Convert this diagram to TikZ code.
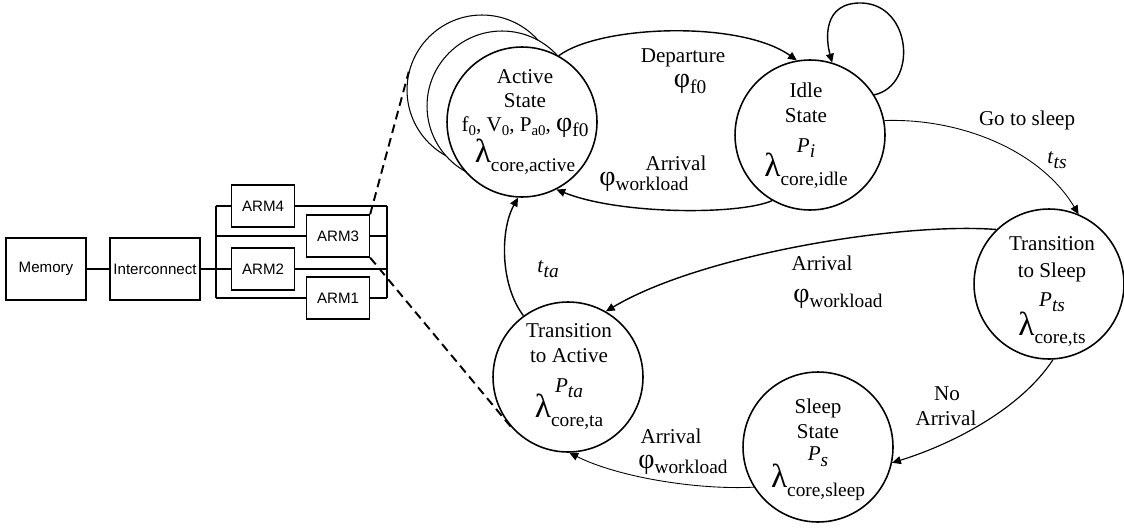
\documentclass[tikz,border=0pt]{standalone}
\usepackage{fontspec}
\setmainfont{Liberation Serif}
\newfontfamily\armfont{Liberation Sans}
\usetikzlibrary{arrows.meta}

\newcommand{\lowsub}[1]{\raisebox{-2.5pt}{\fontsize{8.5}{9}\selectfont #1}}
\newcommand{\lamsub}[1]{{\fontsize{19}{19}\selectfont λ}\raisebox{-5pt}{\fontsize{11}{11}\selectfont #1}}
\newcommand{\phisub}[1]{{\fontsize{16}{16}\selectfont φ}\raisebox{-3pt}{\fontsize{11}{11}\selectfont #1}}
\newcommand{\Psub}[1]{\textit{P}\raisebox{-3pt}{\fontsize{11}{11}\selectfont\itshape #1}}
\newcommand{\tsub}[1]{\textit{t}\raisebox{-3pt}{\fontsize{11}{11}\selectfont\itshape #1}}
\newcommand{\statefont}{\fontsize{12}{13.6}\selectfont\lineskiplimit=-30pt\relax}

\begin{document}
\begin{tikzpicture}[x=0.02cm, y=-0.02cm,
  state/.style={circle, draw, line width=0.9pt, fill=white, minimum size=3cm, inner sep=0pt},
  ghost/.style={state, line width=0.6pt},
  txt/.style={align=center, inner sep=0pt, font=\statefont},
  lbl/.style={inner sep=0pt, anchor=base, font=\fontsize{12}{13.6}\selectfont},
  block/.style={draw, line width=0.75pt, fill=white, minimum height=1.24cm, inner sep=1pt,
    font=\armfont\fontsize{8.6}{10}\selectfont},
  arm/.style={block, minimum width=1.26cm, minimum height=0.84cm},
  bus/.style={line width=1.1pt},
  link/.style={line width=1.1pt, dash pattern=on 5pt off 3pt},
  trans/.style={-{Triangle[length=5pt, width=4.5pt]}, line width=0.8pt},
  thintrans/.style={trans, line width=0.5pt}]
  \useasboundingbox (0,0) rectangle (1124,527);

  % Hardware blocks
  \node[block, minimum width=1.6cm] (mem) at (46,269) {Memory};
  \node[block, minimum width=1.8cm] (icon) at (155,269) {Interconnect};
  \node[arm] (a4) at (263,206) {ARM4};
  \node[arm] (a3) at (338,236) {ARM3};
  \node[arm] (a2) at (263,269) {ARM2};
  \node[arm] (a1) at (338,298) {ARM1};
  \coordinate (lbus) at (216,0);
  \coordinate (rbus) at (387,0);

  % Bus
  \draw[bus] (mem) -- (icon);
  \draw[bus] (icon) -- (lbus |- icon);
  \draw[bus] (lbus |- a4) -- (lbus |- a1);
  \draw[bus] (rbus |- a4) -- (rbus |- a1);
  \foreach \a in {a1,a2,a3,a4}
    \draw[bus] (lbus |- \a) -- (\a.west) (\a.east) -- (rbus |- \a);

  % States
  \node[ghost] (act3) at (482,90) {};
  \node[ghost] (act2) at (502,106) {};
  \node[state] (act) at (522,122) {};
  \node[state] (idle) at (810,135) {};
  \node[state] (ts) at (1049,284) {};
  \node[state] (ta) at (568,377) {};
  \node[state] (sleep) at (818,447) {};

  \node[txt, anchor=north] (act-t) at (525,69)
    {Active\\State\\f\lowsub{0}, V\lowsub{0}, P\lowsub{a0}, \phisub{f0}\\[4.5pt]\lamsub{core,active}};
  \node[txt, anchor=north] (idle-t) at (806,83)
    {Idle\\[0.6pt]State\\[3pt]\Psub{i}\\[0.5pt]\lamsub{core,idle}};
  \node[txt, anchor=north] (ts-t) at (1052,236)
    {Transition\\[1.7pt]to Sleep\\[3pt]\Psub{ts}\\[2.8pt]\lamsub{core,ts}};
  \node[txt, anchor=north] (ta-t) at (569,323)
    {Transition\\[0.6pt]to Active\\[3.5pt]\Psub{ta}\\[0.8pt]\lamsub{core,ta}};
  \node[txt, anchor=north] (sleep-t) at (818,399)
    {Sleep\\[0.6pt]State\\[-1.1pt]\Psub{s}\\[1.7pt]\lamsub{core,sleep}};

  % Zoom lines
  \draw[link] (a3.north east) -- (act3.166);
  \draw[link] (a3.south east) -- (ta.221);

  % Transitions
  \draw[trans] (act.61) .. controls (600,25) and (740,20) .. (idle.100);
  \draw[trans] (idle.32) .. controls (918,85) and (912,5) .. (862,3)
    .. controls (822,2) and (826,40) .. (idle.73);
  \draw[trans] (idle.240) .. controls (740,215) and (620,215) .. (act.297);
  \draw[thintrans] (idle.11) .. controls (960,118) and (1040,150) .. (ts.67);
  \draw[trans] (ts.134) .. controls (900,222) and (700,255) .. (ta.60);
  \draw[trans] (ta.126) .. controls (500,285) and (500,230) .. (act.267);
  \draw[trans, line width=0.65pt] (ts.273) .. controls (1020,410) and (950,445) .. (sleep.348);
  \draw[thintrans] (sleep.212) .. controls (700,490) and (620,478) .. (ta.271);

  % Labels
  \node[lbl] (dep) at (683,63) {Departure};
  \node[lbl] (dep-phi) at (690,88) {\phisub{f0}};
  \node[lbl] (arr-up) at (676,170) {Arrival};
  \node[lbl] (arr-up-phi) at (644,185) {\phisub{workload}};
  \node[lbl] (gts) at (1027,125) {Go to sleep};
  \node[lbl] (tts) at (1057,163) {\tsub{ts}};
  \node[lbl] (arr-mid) at (822,270) {Arrival};
  \node[lbl] (arr-mid-phi) at (838,302) {\phisub{workload}};
  \node[lbl] (tta) at (548,272) {\tsub{ta}};
  \node[lbl] (no) at (947,400) {No};
  \node[lbl] (no-arr) at (946,425) {Arrival};
  \node[lbl] (arr-low) at (671,443) {Arrival};
  \node[lbl] (arr-low-phi) at (683,468) {\phisub{workload}};
\end{tikzpicture}
\end{document}
